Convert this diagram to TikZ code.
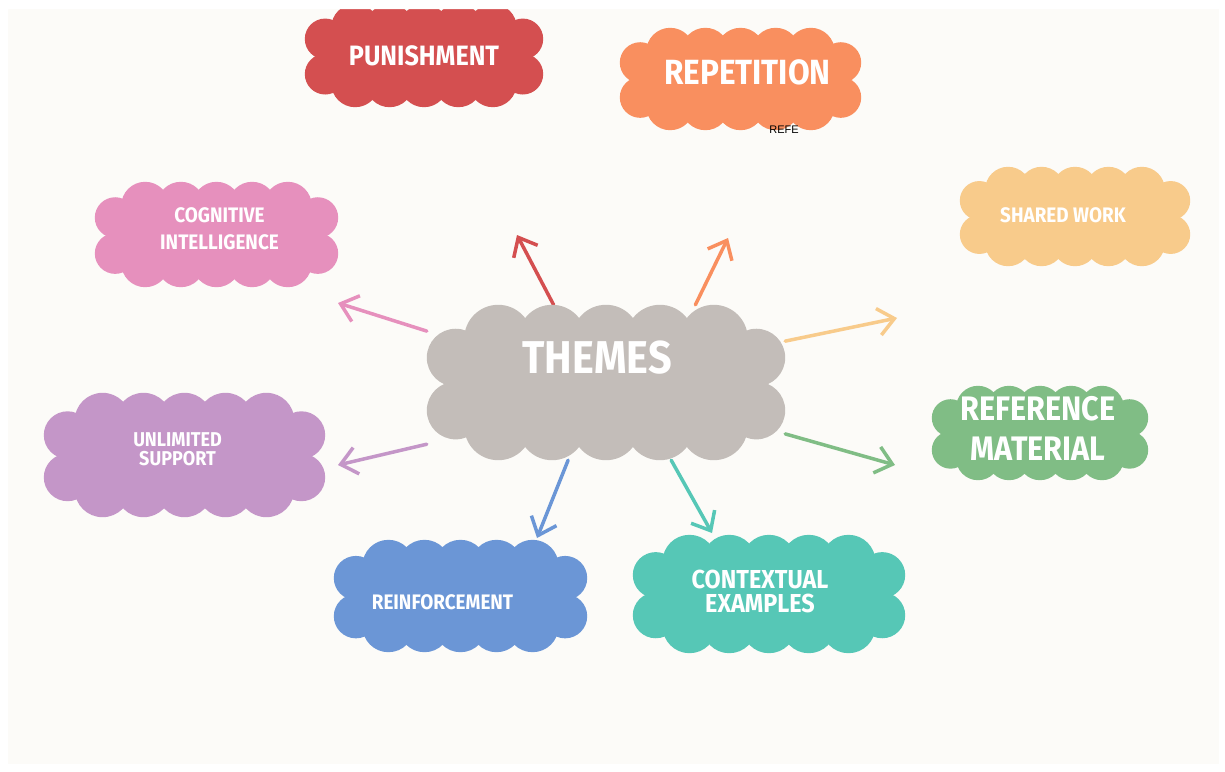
\documentclass[tikz,border=0pt]{standalone}
\usepackage{fontspec}
\newfontfamily\cloudfont[FakeStretch=0.9]{Fira Sans}
\newfontfamily\notefont{Liberation Sans}
\usetikzlibrary{arrows.meta, calc, backgrounds}

\definecolor{paper}{HTML}{FCFBF8}
\definecolor{punishred}{HTML}{D44F50}
\definecolor{repeatorange}{HTML}{F98F5F}
\definecolor{cogpink}{HTML}{E690BD}
\definecolor{sharedsand}{HTML}{F8CB8B}
\definecolor{themegray}{HTML}{C3BDB9}
\definecolor{supportlilac}{HTML}{C496C8}
\definecolor{refgreen}{HTML}{80BD85}
\definecolor{reinfblue}{HTML}{6B96D6}
\definecolor{contextteal}{HTML}{56C7B6}

% scalloped cloud filled round a box node: #1 node, #2 colour, #3 bump radius
\newcommand{\puffs}[3]{%
    \fill[#2] ($(#1.north west)+(#3,#3)$) rectangle ($(#1.south east)+(-#3,-#3)$);
    \foreach \t in {0,0.25,0.5,0.75,1} {
        \fill[#2] ($($(#1.north west)+(2.1*#3,#3)$)!\t!($(#1.north east)+(-2.1*#3,#3)$)$) circle (#3pt);
        \fill[#2] ($($(#1.south west)+(2.1*#3,-#3)$)!\t!($(#1.south east)+(-2.1*#3,-#3)$)$) circle (#3pt);
    }
    \foreach \t in {0.34,0.68} {
        \fill[#2] ($(#1.north west)!\t!(#1.south west)+(0.85*#3,0)$) circle (0.85*#3pt);
        \fill[#2] ($(#1.north east)!\t!(#1.south east)+(-0.85*#3,0)$) circle (0.85*#3pt);
    }%
}

\begin{document}
\begin{tikzpicture}[
    x=1pt, y=-1pt,
    >={Straight Barb[length=16pt,width=27pt]},
    cloudbox/.style 2 args={
        rectangle,
        minimum width=#1pt,
        minimum height=#2pt,
        inner sep=0pt
    },
    cloudtext/.style 2 args={
        text=white,
        align=center,
        inner sep=0pt,
        font=\cloudfont\bfseries\fontsize{#1}{#2}\selectfont
    },
    themearrow/.style={->, line width=3.5pt, line cap=round, draw=#1}
]
\useasboundingbox (0,0) rectangle (1225,771);
% ============================================================
% CLOUDS -- box nodes, text set as centre labels
% ============================================================
\node[cloudbox={358}{155},
      label={[cloudtext={46}{50}, xshift=-9pt, yshift=25pt]center:THEMES}]
    (themes) at (606,382.5) {};
\node[cloudbox={238}{103},
      label={[cloudtext={28}{30}]center:PUNISHMENT}]
    (punishment) at (424,55.5) {};
\node[cloudbox={241}{102},
      label={[cloudtext={35}{38}, xshift=7pt, yshift=7pt]center:REPETITION}]
    (repetition) at (740.5,79) {};
\node[cloudbox={243}{105},
      label={[cloudtext={21}{27}, xshift=3pt, yshift=6pt]center:COGNITIVE\\INTELLIGENCE}]
    (cognitive) at (216.5,234.5) {};
\node[cloudbox={230}{99},
      label={[cloudtext={21}{23}, xshift=-12pt, yshift=1pt]center:SHARED WORK}]
    (shared) at (1075,216.5) {};
\node[cloudbox={281}{124},
      label={[cloudtext={20}{19}, xshift=-7pt, yshift=6pt]center:UNLIMITED\\SUPPORT}]
    (support) at (184.5,455) {};
\node[cloudbox={216}{94},
      label={[cloudtext={34}{40}, xshift=-2pt, yshift=5pt]center:REFERENCE\\MATERIAL}]
    (reference) at (1040,433) {};
\node[cloudbox={253}{112},
      label={[cloudtext={21}{23}, xshift=-18pt, yshift=-6pt]center:REINFORCEMENT}]
    (reinforcement) at (460.5,596) {};
\node[cloudbox={272}{118},
      label={[cloudtext={26}{24}, xshift=-9pt, yshift=3pt]center:CONTEXTUAL\\EXAMPLES}]
    (contextual) at (769,594) {};
\node[text=black, inner sep=0pt, font=\notefont\fontsize{11}{12}\selectfont]
    (refe) at (784,130) {REFE};
% ============================================================
% ARROW TIPS -- free ends of the spokes
% ============================================================
\coordinate (tip-punish)  at (517,235);
\coordinate (tip-repeat)  at (728,238);
\coordinate (tip-cog)     at (338,303);
\coordinate (tip-shared)  at (897,318);
\coordinate (tip-support) at (338,465);
\coordinate (tip-ref)     at (895,465);
\coordinate (tip-reinf)   at (537,538);
\coordinate (tip-context) at (712,533);

\begin{pgfonlayer}{background}
    % paper
    \fill[paper] (0,0) rectangle (1225,771);
    % spokes out of the centre cloud
    \draw[themearrow=punishred]    (themes.124.4) -- (tip-punish);
    \draw[themearrow=repeatorange] (themes.41.8)  -- (tip-repeat);
    \draw[themearrow=cogpink]      (themes.164.2) -- (tip-cog);
    \draw[themearrow=sharedsand]   (themes.13)    -- (tip-shared);
    \draw[themearrow=supportlilac] (themes.199.2) -- (tip-support);
    \draw[themearrow=refgreen]     (themes.344)   -- (tip-ref);
    \draw[themearrow=reinfblue]    (themes.244.4) -- (tip-reinf);
    \draw[themearrow=contextteal]  (themes.310.4) -- (tip-context);
    % cloud bodies
    \puffs{themes}{themegray}{34}
    \puffs{punishment}{punishred}{24}
    \puffs{repetition}{repeatorange}{24}
    \puffs{cognitive}{cogpink}{24}
    \puffs{shared}{sharedsand}{23}
    \puffs{support}{supportlilac}{28}
    \puffs{reference}{refgreen}{22}
    \puffs{reinforcement}{reinfblue}{26}
    \puffs{contextual}{contextteal}{27}
\end{pgfonlayer}
% white frame round the paper
\fill[white, even odd rule] (0,0) rectangle (1225,771) (8,9) rectangle (1219,764);
\end{tikzpicture}
\end{document}
